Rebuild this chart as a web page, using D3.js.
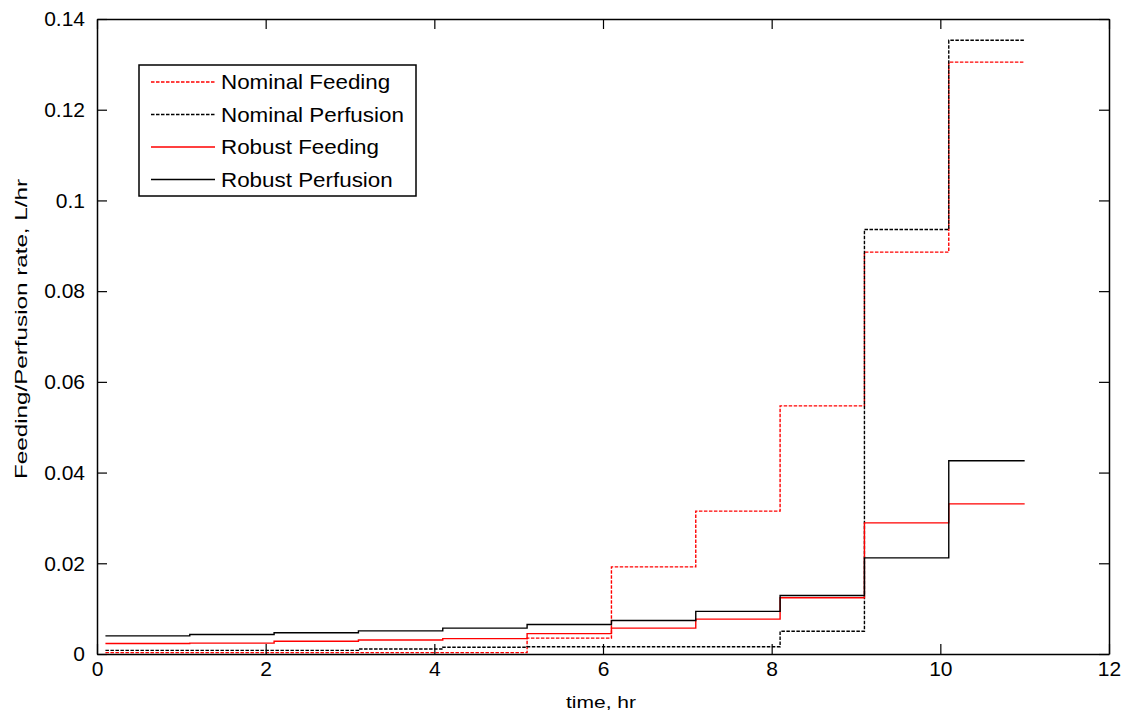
<!DOCTYPE html>
<html>
<head>
<meta charset="utf-8">
<script src="https://cdn.jsdelivr.net/npm/d3@7"></script>
<style>
  body { margin: 0; background: #fff; }
  svg text { font-family: "Liberation Sans", Arial, sans-serif; fill: #000; }
</style>
</head>
<body>
<div id="chart"></div>
<script>
// step boundaries (hours) - each value holds from edges[i] to edges[i+1]
var edges = [0.1, 1.1, 2.1, 3.1, 4.1, 5.1, 6.1, 7.1, 8.1, 9.1, 10.1, 11];

var nominalFeeding   = [0.0003, 0.0003, 0.0003, 0.0003, 0.0003, 0.0035, 0.0192, 0.0315, 0.0547, 0.0886, 0.1305];
var nominalPerfusion = [0.0008, 0.0008, 0.0008, 0.0011, 0.0015, 0.0016, 0.0016, 0.0016, 0.0050, 0.0936, 0.1353];
var robustFeeding    = [0.0023, 0.0024, 0.0028, 0.0031, 0.0034, 0.0045, 0.0057, 0.0077, 0.0124, 0.0289, 0.0331];
var robustPerfusion  = [0.0040, 0.0043, 0.0047, 0.0051, 0.0057, 0.0065, 0.0074, 0.0094, 0.0129, 0.0212, 0.0426];

var seriesNames = ["Nominal Feeding", "Nominal Perfusion", "Robust Feeding", "Robust Perfusion"];
var xTicks = [0, 2, 4, 6, 8, 10, 12];
var yTicks = [0, 0.02, 0.04, 0.06, 0.08, 0.1, 0.12, 0.14];

var series = [
    {name: seriesNames[0], values: nominalFeeding,   color: "#ff0000", dash: "3.5,1.5"},
    {name: seriesNames[1], values: nominalPerfusion, color: "#000000", dash: "3.5,1.5"},
    {name: seriesNames[2], values: robustFeeding,    color: "#ff0000", dash: null},
    {name: seriesNames[3], values: robustPerfusion,  color: "#000000", dash: null}
];

var margin = {top: 19, right: 19, bottom: 61, left: 97};
var width = 1128 - margin.left - margin.right,
    height = 715 - margin.top - margin.bottom;

var svg = d3.select("#chart").append("svg")
    .attr("width", 1128)
    .attr("height", 715)
    .append("g")
    .attr("transform", "translate(" + margin.left + "," + margin.top + ")");

var xScale = d3.scaleLinear().domain([0, 12]).range([0, width]);
var yScale = d3.scaleLinear().domain([0, 0.14]).range([height, 0]);

// turn the step values into points for a stair line
function stepPoints(values) {
    var pts = values.map(function(v, i) { return [edges[i], v]; });
    pts.push([edges[edges.length - 1], values[values.length - 1]]);
    return pts;
}

var line = d3.line()
    .x(function(d) { return xScale(d[0]); })
    .y(function(d) { return yScale(d[1]); })
    .curve(d3.curveStepAfter);

// dashed first so solid ones sit on top like the original
svg.selectAll("path.series")
    .data(series)
    .enter()
    .append("path")
    .attr("class", "series")
    .attr("d", function(d) { return line(stepPoints(d.values)); })
    .attr("fill", "none")
    .attr("stroke", function(d) { return d.color; })
    .attr("stroke-width", 1.4)
    .attr("stroke-dasharray", function(d) { return d.dash; });

// axes - ticks pointing inward on all four sides
var tickLen = 10;
svg.append("g")
    .attr("class", "axis")
    .attr("transform", "translate(0," + height + ")")
    .call(d3.axisBottom(xScale).tickValues(xTicks).tickSizeInner(-tickLen).tickSizeOuter(0).tickPadding(7).tickFormat(d3.format("d")));

svg.append("g")
    .attr("class", "axis")
    .call(d3.axisTop(xScale).tickValues(xTicks).tickSizeInner(-tickLen).tickSizeOuter(0).tickFormat(""));

svg.append("g")
    .attr("class", "axis")
    .call(d3.axisLeft(yScale).tickValues(yTicks).tickSizeInner(-tickLen).tickSizeOuter(0).tickPadding(12)
        .tickFormat(function(d) { return d === 0 ? "0" : String(+d.toFixed(2)); }));

svg.append("g")
    .attr("class", "axis")
    .attr("transform", "translate(" + width + ",0)")
    .call(d3.axisRight(yScale).tickValues(yTicks).tickSizeInner(-tickLen).tickSizeOuter(0).tickFormat(""));

svg.selectAll(".axis path.domain").attr("stroke", "#000").attr("stroke-width", 1.5);
svg.selectAll(".axis line").attr("stroke", "#000").attr("stroke-width", 1.2);
svg.selectAll(".axis text").style("font-size", "21px");

// axis labels (original text is drawn a bit wide, so stretch to its length)
svg.append("text")
    .attr("x", width / 2 - 2)
    .attr("y", height + 54)
    .style("text-anchor", "middle")
    .style("font-size", "16px")
    .attr("textLength", 70)
    .attr("lengthAdjust", "spacingAndGlyphs")
    .text("time, hr");

svg.append("text")
    .attr("transform", "rotate(-90)")
    .attr("x", 0 - 310)
    .attr("y", 27 - margin.left)
    .style("text-anchor", "middle")
    .style("font-size", "17px")
    .attr("textLength", 300)
    .attr("lengthAdjust", "spacingAndGlyphs")
    .text("Feeding/Perfusion rate, L/hr");

// legend
var legend = svg.append("g")
    .attr("transform", "translate(" + (139 - margin.left) + "," + (65 - margin.top) + ")");

legend.append("rect")
    .attr("width", 277)
    .attr("height", 131)
    .attr("fill", "#fff")
    .attr("stroke", "#000")
    .attr("stroke-width", 1.5);

var rows = legend.selectAll("g.row")
    .data(series)
    .enter()
    .append("g")
    .attr("class", "row")
    .attr("transform", function(d, i) { return "translate(0," + (17 + i * 32.5) + ")"; });

rows.append("line")
    .attr("x1", 12).attr("x2", 76)
    .attr("y1", 0).attr("y2", 0)
    .attr("stroke", function(d) { return d.color; })
    .attr("stroke-width", 1.4)
    .attr("stroke-dasharray", function(d) { return d.dash; });

rows.append("text")
    .attr("x", 82)
    .attr("y", 0)
    .attr("dy", "0.35em")
    .attr("transform", "translate(82,0) scale(1.12,1) translate(-82,0)")
    .style("font-size", "20px")
    .text(function(d) { return d.name; });
</script>
</body>
</html>
